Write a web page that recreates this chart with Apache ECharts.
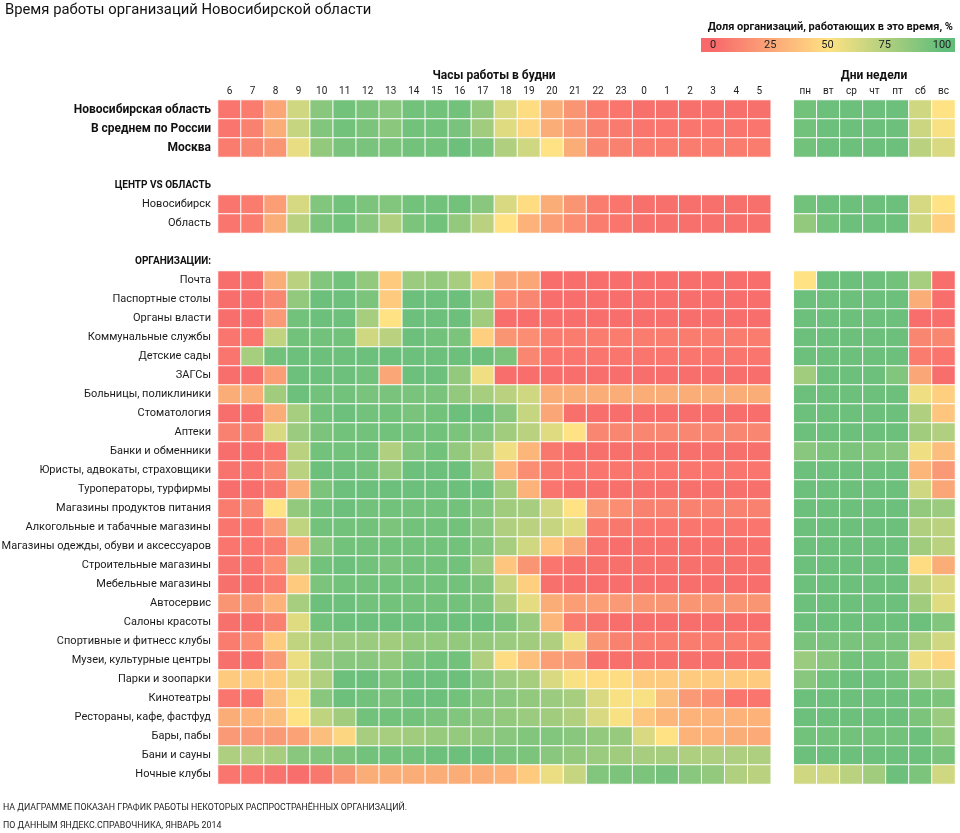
<!DOCTYPE html>
<html><head><meta charset="utf-8">
<script src="https://cdn.jsdelivr.net/npm/echarts@6/dist/echarts.min.js"></script>
<style>html,body{margin:0;padding:0;background:#fff}#c{width:960px;height:833px}</style>
</head><body><div id="c"></div><script>
const hours = ['6','7','8','9','10','11','12','13','14','15','16','17','18','19','20','21','22','23','0','1','2','3','4','5'];
const days = ['пн','вт','ср','чт','пт','сб','вс'];
const legendTicks = [0, 25, 50, 75, 100];

const rowLabels = [
  'Новосибирская область','В среднем по России','Москва',' ',
  'ЦЕНТР VS ОБЛАСТЬ','Новосибирск','Область','  ',
  'ОРГАНИЗАЦИИ:','Почта','Паспортные столы','Органы власти','Коммунальные службы','Детские сады','ЗАГСы',
  'Больницы, поликлиники','Стоматология','Аптеки','Банки и обменники','Юристы, адвокаты, страховщики',
  'Туроператоры, турфирмы','Магазины продуктов питания','Алкогольные и табачные магазины',
  'Магазины одежды, обуви и аксессуаров','Строительные магазины','Мебельные магазины','Автосервис',
  'Салоны красоты','Спортивные и фитнесс клубы','Музеи, культурные центры','Парки и зоопарки',
  'Кинотеатры','Рестораны, кафе, фастфуд','Бары, пабы','Бани и сауны','Ночные клубы'
];
const boldRows = ['Новосибирская область','В среднем по России','Москва'];
const headerRows = ['ЦЕНТР VS ОБЛАСТЬ','ОРГАНИЗАЦИИ:',' ','  '];

// weekday hours 6..5 (24 values) per data row, in order of rowLabels (skipping headers/gaps)
const hourValues = [
  [5,8,25,65,88,95,92,88,95,95,95,85,62,48,28,18,8,5,3,3,3,3,3,3],
  [5,10,28,68,90,95,92,87,95,95,93,80,60,45,28,20,10,7,5,5,5,5,5,5],
  [8,12,18,57,85,93,93,92,95,95,97,93,75,65,50,28,12,10,8,8,8,8,8,8],
  [5,8,22,63,90,95,92,90,95,95,95,88,62,48,28,18,8,5,3,3,3,3,3,3],
  [5,8,28,72,92,95,88,75,92,95,85,72,50,30,22,15,8,5,3,3,3,3,3,3],
  [2,3,28,72,90,95,85,40,82,85,78,40,25,25,2,2,2,2,2,2,2,2,2,2],
  [2,2,12,85,97,97,92,40,97,97,97,85,15,12,2,2,2,2,2,2,2,2,2,2],
  [2,2,20,95,97,97,78,50,97,97,97,80,2,2,2,2,2,2,2,2,2,2,2,2],
  [5,5,70,95,95,95,65,72,97,95,92,42,18,15,8,8,8,8,8,8,8,8,8,8],
  [5,78,95,97,97,97,97,97,97,97,97,97,92,12,5,5,5,5,5,5,5,5,5,5],
  [2,2,22,97,97,97,95,25,97,97,85,55,2,2,2,2,2,2,2,2,2,2,2,2],
  [28,28,80,97,95,95,93,93,93,93,85,78,72,65,28,28,28,28,28,28,28,28,28,28],
  [2,2,28,78,95,97,95,95,93,95,97,97,88,68,25,3,2,2,2,2,2,2,2,2],
  [10,10,62,82,92,95,95,95,95,95,92,90,80,72,60,50,12,12,12,12,12,12,12,12],
  [2,2,5,72,95,95,95,75,90,95,85,75,55,32,6,3,3,3,3,3,3,3,3,3],
  [4,4,12,72,97,97,95,85,97,97,97,82,32,15,6,5,5,5,5,5,5,5,5,5],
  [2,2,6,28,92,97,97,97,97,97,97,97,80,30,5,3,3,3,3,3,3,3,3,3],
  [8,12,50,85,95,97,95,95,95,95,95,90,80,78,65,50,20,15,10,10,10,10,10,10],
  [5,5,20,70,95,95,95,92,95,95,95,88,75,72,68,60,8,6,5,5,5,5,5,5],
  [5,5,8,28,88,95,95,95,95,95,95,90,78,65,38,25,4,2,3,3,3,3,3,3],
  [4,4,15,72,95,97,95,93,95,95,95,82,38,18,5,3,3,3,3,3,3,3,3,3],
  [3,3,8,40,92,95,95,95,95,95,95,92,68,42,3,2,2,2,2,2,2,2,2,2],
  [18,18,30,78,97,97,95,95,95,95,95,93,75,58,28,22,22,20,18,18,18,18,18,18],
  [3,3,10,60,95,97,97,97,97,97,97,97,92,82,32,8,4,2,2,2,2,2,2,2],
  [8,15,40,70,80,82,82,80,85,85,85,85,82,80,75,55,18,10,8,8,8,8,8,8],
  [3,3,20,56,82,88,88,85,92,95,95,75,48,36,22,20,3,3,3,3,3,3,3,3],
  [40,40,40,60,75,97,97,92,97,97,97,90,82,78,62,52,48,48,40,40,40,40,40,40],
  [5,5,35,52,88,97,95,93,97,97,95,90,88,85,82,78,62,52,52,35,20,15,5,5],
  [28,30,35,50,70,80,95,95,95,93,90,88,85,82,80,75,62,52,38,32,30,30,30,30],
  [20,20,20,24,35,45,78,78,80,83,84,86,88,90,90,88,85,83,62,50,30,30,28,27],
  [76,76,78,88,90,92,95,95,95,97,97,97,93,92,88,85,82,80,78,78,76,76,76,76],
  [5,5,4,2,6,18,28,28,28,28,28,28,30,40,56,68,90,92,92,94,88,85,75,72]
];
// days of week per data row
const dayValues = [
  [95,97,97,97,97,65,50],
  [95,97,97,97,97,66,52],
  [95,97,97,97,97,72,62],
  [95,97,97,97,97,63,50],
  [85,95,97,97,97,65,42],
  [50,97,97,97,95,78,2],
  [97,97,97,97,97,28,2],
  [97,97,97,97,97,2,2],
  [97,97,97,97,97,12,12],
  [97,97,97,97,97,8,5],
  [80,97,97,97,90,25,2],
  [97,97,97,97,97,55,42],
  [97,97,97,97,97,75,38],
  [97,97,97,97,97,80,75],
  [88,92,92,90,88,55,35],
  [97,97,97,97,97,32,20],
  [97,97,97,97,97,65,25],
  [97,97,97,97,97,85,82],
  [97,97,97,97,97,75,72],
  [97,97,97,97,97,80,72],
  [97,97,97,97,97,48,28],
  [97,97,97,97,97,72,62],
  [97,97,97,97,97,80,60],
  [97,97,97,97,97,97,90],
  [93,93,93,93,93,78,65],
  [82,88,95,95,92,55,45],
  [88,95,97,97,95,82,78],
  [97,97,97,97,97,95,92],
  [97,97,97,97,97,92,82],
  [95,95,95,95,95,97,85],
  [97,97,97,97,97,97,93],
  [65,65,72,80,97,92,65]
];

const colorStops = ['#f8696b', '#fee283', '#63be7b'];
const xCats = hours.concat(['\u00a0']).concat(days);

const data = [];
let k = 0;
rowLabels.forEach((lab, r) => {
  if (headerRows.indexOf(lab) >= 0) return;
  hourValues[k].forEach((v, h) => data.push([h, r, v]));
  dayValues[k].forEach((v, d) => data.push([hours.length + 1 + d, r, v]));
  k++;
});

const chart = echarts.init(document.getElementById('c'), null, {renderer: 'canvas'});
const FONT = 'Roboto, "Liberation Sans", Arial, sans-serif';
const gx0 = 701, gw = 254;
const legendGraphics = legendTicks.map(t => ({
  type: 'text',
  x: 713 + t / 100 * 229, y: 45,
  style: {text: String(t), fill: '#222', font: '11px ' + FONT, textAlign: 'center', textVerticalAlign: 'middle'}
}));

chart.setOption({
  backgroundColor: '#fff',
  animation: false,
  textStyle: {fontFamily: FONT},
  grid: {left: 218, right: 5, top: 100, bottom: 49, containLabel: false, outerBoundsMode: 'none'},
  xAxis: {
    type: 'category', position: 'top', data: xCats,
    axisLine: {show: false}, axisTick: {show: false}, splitLine: {show: false},
    axisLabel: {interval: 0, fontSize: 10, color: '#222', margin: 4, fontFamily: FONT}
  },
  yAxis: {
    type: 'category', inverse: true, data: rowLabels,
    axisLine: {show: false}, axisTick: {show: false}, splitLine: {show: false},
    axisLabel: {
      interval: 0, margin: 7, fontSize: 11, color: '#1a1a1a', fontFamily: FONT,
      formatter: v => boldRows.indexOf(v) >= 0 ? '{b|' + v + '}' : (headerRows.indexOf(v) >= 0 ? '{h|' + v + '}' : v),
      rich: {
        b: {fontWeight: 'bold', fontSize: 12, color: '#111', fontFamily: FONT},
        h: {fontWeight: 'bold', fontSize: 10, color: '#111', fontFamily: FONT}
      }
    }
  },
  visualMap: {
    show: false, type: 'continuous', min: 0, max: 100, dimension: 2, seriesIndex: 0,
    inRange: {color: colorStops}
  },
  series: [{
    type: 'heatmap', data: data,
    itemStyle: {borderColor: '#fff', borderWidth: 1},
    emphasis: {disabled: true}, progressive: 0
  }],
  graphic: [
    {type: 'text', x: 5, y: 10, style: {text: 'Время работы организаций Новосибирской области', fill: '#111', font: '14.8px ' + FONT, textVerticalAlign: 'middle'}},
    {type: 'text', x: 953, y: 27, style: {text: 'Доля организаций, работающих в это время, %', fill: '#111', font: 'bold 11px ' + FONT, textAlign: 'right', textVerticalAlign: 'middle'}},
    {type: 'rect', shape: {x: gx0, y: 38, width: gw, height: 14},
     style: {fill: new echarts.graphic.LinearGradient(0, 0, 1, 0, [
       {offset: 0, color: colorStops[0]}, {offset: 0.047, color: colorStops[0]},
       {offset: 0.504, color: colorStops[1]},
       {offset: 0.949, color: colorStops[2]}, {offset: 1, color: colorStops[2]}])}},
    ...legendGraphics,
    {type: 'text', x: 494, y: 76, style: {text: 'Часы работы в будни', fill: '#111', font: 'bold 12px ' + FONT, textAlign: 'center', textVerticalAlign: 'middle'}},
    {type: 'text', x: 874, y: 76, style: {text: 'Дни недели', fill: '#111', font: 'bold 12px ' + FONT, textAlign: 'center', textVerticalAlign: 'middle'}},
    {type: 'text', x: 3, y: 808, style: {text: 'НА ДИАГРАММЕ ПОКАЗАН ГРАФИК РАБОТЫ НЕКОТОРЫХ РАСПРОСТРАНЁННЫХ ОРГАНИЗАЦИЙ.', fill: '#222', font: '8.8px ' + FONT, textVerticalAlign: 'middle'}},
    {type: 'text', x: 3, y: 826, style: {text: 'ПО ДАННЫМ ЯНДЕКС.СПРАВОЧНИКА, ЯНВАРЬ 2014', fill: '#222', font: '8.8px ' + FONT, textVerticalAlign: 'middle'}}
  ]
});
</script></body></html>
